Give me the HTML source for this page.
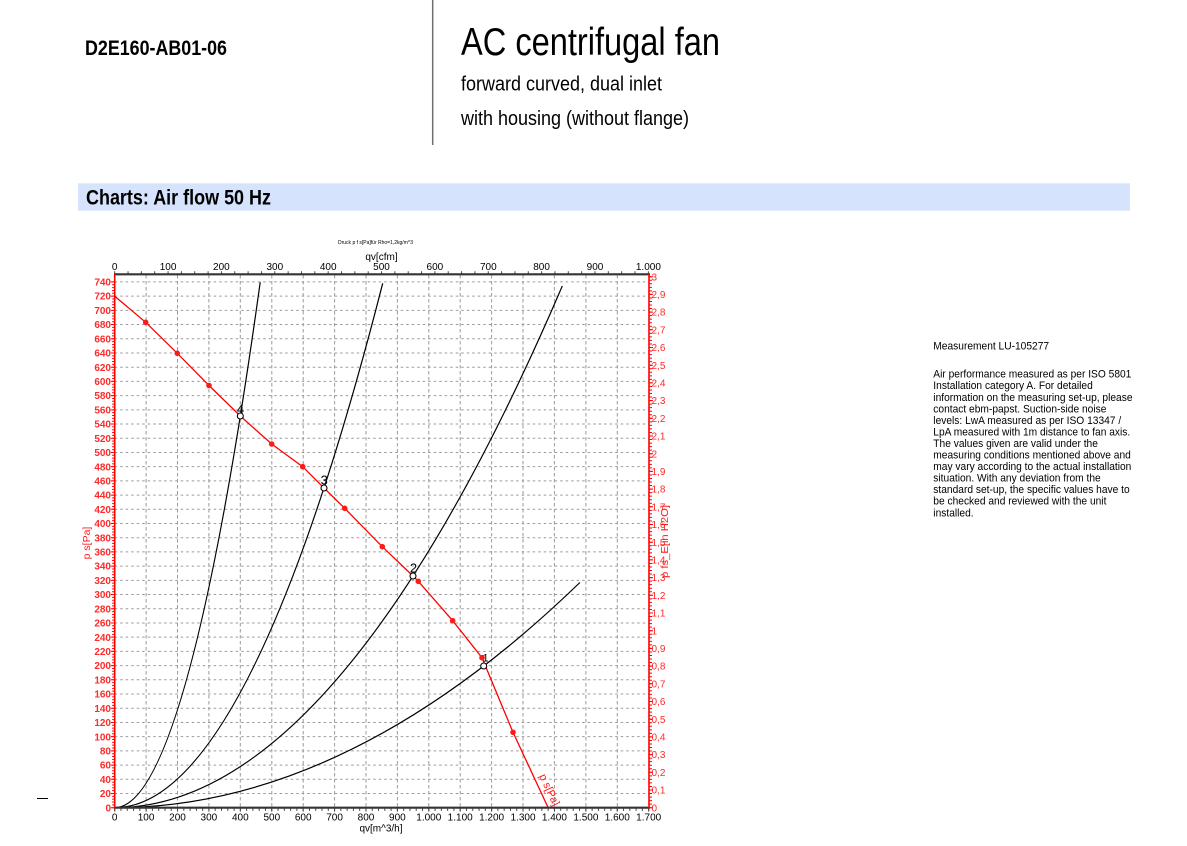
<!DOCTYPE html>
<html><head><meta charset="utf-8"><style>
html,body{margin:0;padding:0;background:#fff;}
svg{display:block;font-family:"Liberation Sans",Arial,sans-serif;}
</style></head><body>
<svg width="1187" height="846" viewBox="0 0 1187 846" xmlns="http://www.w3.org/2000/svg">
<rect width="1187" height="846" fill="#fff"/>
<!-- header -->
<text x="85" y="55" font-size="21" font-weight="bold" textLength="142" lengthAdjust="spacingAndGlyphs" fill="#000">D2E160-AB01-06</text>
<line x1="432.7" y1="0" x2="432.7" y2="145" stroke="#707070" stroke-width="1.5"/>
<text x="461" y="55" font-size="39" textLength="259" lengthAdjust="spacingAndGlyphs" fill="#000">AC centrifugal fan</text>
<text x="461" y="90.7" font-size="20" textLength="201" lengthAdjust="spacingAndGlyphs" fill="#000">forward curved, dual inlet</text>
<text x="461" y="125" font-size="20" textLength="228" lengthAdjust="spacingAndGlyphs" fill="#000">with housing (without flange)</text>
<rect x="78" y="183.3" width="1052" height="27.4" fill="#d6e3fc"/>
<text x="86" y="204.3" font-size="21" font-weight="bold" textLength="185" lengthAdjust="spacingAndGlyphs" fill="#000">Charts: Air flow 50 Hz</text>

<!-- right text -->
<g font-size="10.7" fill="#000" transform="translate(933.3,0) scale(0.955,1)">
<text x="0" y="349.3">Measurement LU-105277</text>
<text x="0" y="377.7">Air performance measured as per ISO 5801</text>
<text x="0" y="389.25">Installation category A. For detailed</text>
<text x="0" y="400.8">information on the measuring set-up, please</text>
<text x="0" y="412.35">contact ebm-papst. Suction-side noise</text>
<text x="0" y="423.9">levels: LwA measured as per ISO 13347 /</text>
<text x="0" y="435.45">LpA measured with 1m distance to fan axis.</text>
<text x="0" y="447">The values given are valid under the</text>
<text x="0" y="458.55">measuring conditions mentioned above and</text>
<text x="0" y="470.1">may vary according to the actual installation</text>
<text x="0" y="481.65">situation. With any deviation from the</text>
<text x="0" y="493.2">standard set-up, the specific values have to</text>
<text x="0" y="504.75">be checked and reviewed with the unit</text>
<text x="0" y="516.3">installed.</text>
</g>

<line x1="37" y1="798.5" x2="48" y2="798.5" stroke="#000" stroke-width="1"/>

<!-- chart titles -->
<text x="375.5" y="244" font-size="5.5" text-anchor="middle" textLength="75" lengthAdjust="spacingAndGlyphs" fill="#000">Druck p f s[Pa]für Rho=1,2kg/m^3</text>
<text x="381.5" y="260" font-size="10" text-anchor="middle" fill="#000">qv[cfm]</text>
<text x="381" y="831.5" font-size="10" text-anchor="middle" fill="#000">qv[m^3/h]</text>

<!-- grid -->
<path fill="none" stroke="#9a9a9a" stroke-width="1" stroke-dasharray="2.5 3" d="M114.7 793.49H649M114.7 779.28H649M114.7 765.07H649M114.7 750.86H649M114.7 736.65H649M114.7 722.44H649M114.7 708.23H649M114.7 694.02H649M114.7 679.81H649M114.7 665.6H649M114.7 651.39H649M114.7 637.18H649M114.7 622.97H649M114.7 608.76H649M114.7 594.55H649M114.7 580.34H649M114.7 566.13H649M114.7 551.92H649M114.7 537.71H649M114.7 523.5H649M114.7 509.29H649M114.7 495.08H649M114.7 480.87H649M114.7 466.66H649M114.7 452.45H649M114.7 438.24H649M114.7 424.03H649M114.7 409.82H649M114.7 395.61H649M114.7 381.4H649M114.7 367.19H649M114.7 352.98H649M114.7 338.77H649M114.7 324.56H649M114.7 310.35H649M114.7 296.14H649M114.7 281.93H649"/>
<path fill="none" stroke="#9a9a9a" stroke-width="1" stroke-dasharray="3.5 2.5" d="M146.1 275V807M177.5 275V807M208.9 275V807M240.3 275V807M271.8 275V807M303.2 275V807M334.6 275V807M366 275V807M397.4 275V807M428.8 275V807M460.2 275V807M491.6 275V807M523 275V807M554.4 275V807M585.9 275V807M617.3 275V807"/>

<!-- system curves -->
<g fill="none" stroke="#000" stroke-width="1.2">
<path d="M114.7 807.7Q187.45 807.7 260.2 282.2"/>
<path d="M114.7 807.7Q248.7 807.7 382.7 283.3"/>
<path d="M114.7 807.7Q338.5 807.7 562.3 286"/>
<path d="M114.7 807.7Q347.3 807.7 579.9 582.5"/>
</g>

<!-- fan curve -->
<path fill="none" stroke="#ff0000" stroke-width="1.3" d="M114.7 296.2L145.7 322.3L177.3 353.3L209 385.5L240.3 416L271.7 444L302.7 466.7L324 488L344.7 508.3L382.3 546.7L413 576L418.3 581.3L452.7 620.7L482 657.7L513 732.3L548.3 808"/>
<g fill="#ff1a1a">
<circle cx="145.7" cy="322.3" r="2.8"/>
<circle cx="177.3" cy="353.3" r="2.8"/>
<circle cx="209" cy="385.5" r="2.8"/>
<circle cx="271.7" cy="444" r="2.8"/>
<circle cx="302.7" cy="466.7" r="2.8"/>
<circle cx="344.7" cy="508.3" r="2.8"/>
<circle cx="382.3" cy="546.7" r="2.8"/>
<circle cx="418.3" cy="581.3" r="2.8"/>
<circle cx="452.7" cy="620.7" r="2.8"/>
<circle cx="482" cy="657.7" r="2.8"/>
<circle cx="513" cy="732.3" r="2.8"/>
</g>
<g fill="#fff" stroke="#000" stroke-width="1.1">
<circle cx="240.3" cy="416" r="3"/>
<circle cx="324" cy="488" r="3"/>
<circle cx="413" cy="576" r="3"/>
<circle cx="483.7" cy="666" r="3"/>
</g>
<g font-size="13" text-anchor="middle" fill="#000">
<text x="240.5" y="413.3">4</text>
<text x="324.2" y="484.3">3</text>
<text x="413.5" y="572.7">2</text>
<text x="485.5" y="661.7" font-size="11">1</text>
</g>
<text transform="translate(539,776) rotate(65)" font-size="11" fill="#ff1a1a" textLength="34" lengthAdjust="spacingAndGlyphs">p s[Pa]</text>

<!-- axes -->
<line x1="114" y1="274.3" x2="650" y2="274.3" stroke="#333" stroke-width="2.2"/>
<line x1="114" y1="807.7" x2="650" y2="807.7" stroke="#333" stroke-width="2.2"/>
<line x1="114.7" y1="274" x2="114.7" y2="808.5" stroke="#ff0000" stroke-width="1.6"/>
<line x1="649" y1="274" x2="649" y2="808.5" stroke="#ff0000" stroke-width="1.6"/>

<!-- ticks -->
<line x1="113.4" y1="808.2" x2="113.4" y2="281" stroke="#ff0000" stroke-width="2.6" stroke-dasharray="1 1.842"/>
<line x1="112.8" y1="808.2" x2="112.8" y2="281" stroke="#ff0000" stroke-width="3.8" stroke-dasharray="1 13.21"/>
<line x1="650.5" y1="808.2" x2="650.5" y2="276" stroke="#ff0000" stroke-width="3" stroke-dasharray="1 2.54"/>
<line x1="651" y1="808.2" x2="651" y2="276" stroke="#ff0000" stroke-width="4" stroke-dasharray="1 16.7"/>
<line x1="114.2" y1="809.6" x2="650" y2="809.6" stroke="#444" stroke-width="2.5" stroke-dasharray="1 5.282"/>
<line x1="114.2" y1="809.9" x2="650" y2="809.9" stroke="#444" stroke-width="3.4" stroke-dasharray="1 30.41"/>
<line x1="114.2" y1="272.4" x2="650" y2="272.4" stroke="#444" stroke-width="2.2" stroke-dasharray="1 12.341"/>

<!-- left labels -->
<g font-size="10" font-weight="bold" text-anchor="end" fill="#ff2a2a">
<text x="111" y="811.3">0</text><text x="111" y="797.1">20</text><text x="111" y="782.9">40</text><text x="111" y="768.7">60</text><text x="111" y="754.5">80</text><text x="111" y="740.3">100</text><text x="111" y="726">120</text><text x="111" y="711.8">140</text><text x="111" y="697.6">160</text><text x="111" y="683.4">180</text><text x="111" y="669.2">200</text><text x="111" y="655">220</text><text x="111" y="640.8">240</text><text x="111" y="626.6">260</text><text x="111" y="612.4">280</text><text x="111" y="598.2">300</text><text x="111" y="583.9">320</text><text x="111" y="569.7">340</text><text x="111" y="555.5">360</text><text x="111" y="541.3">380</text><text x="111" y="527.1">400</text><text x="111" y="512.9">420</text><text x="111" y="498.7">440</text><text x="111" y="484.5">460</text><text x="111" y="470.3">480</text><text x="111" y="456.1">500</text><text x="111" y="441.8">520</text><text x="111" y="427.6">540</text><text x="111" y="413.4">560</text><text x="111" y="399.2">580</text><text x="111" y="385">600</text><text x="111" y="370.8">620</text><text x="111" y="356.6">640</text><text x="111" y="342.4">660</text><text x="111" y="328.2">680</text><text x="111" y="314">700</text><text x="111" y="299.7">720</text><text x="111" y="285.5">740</text>
</g>
<text transform="translate(90,543) rotate(-90)" font-size="10.5" text-anchor="middle" fill="#ff1a1a">p s[Pa]</text>

<!-- right labels -->
<g font-size="10" fill="#ff2a2a">
<text x="651.5" y="811.3">0</text><text x="651.5" y="793.6">0,1</text><text x="651.5" y="775.9">0,2</text><text x="651.5" y="758.2">0,3</text><text x="651.5" y="740.5">0,4</text><text x="651.5" y="722.8">0,5</text><text x="651.5" y="705.1">0,6</text><text x="651.5" y="687.4">0,7</text><text x="651.5" y="669.7">0,8</text><text x="651.5" y="652">0,9</text><text x="651.5" y="634.3">1</text><text x="651.5" y="616.6">1,1</text><text x="651.5" y="598.9">1,2</text><text x="651.5" y="581.2">1,3</text><text x="651.5" y="563.5">1,4</text><text x="651.5" y="545.8">1,5</text><text x="651.5" y="528.1">1,6</text><text x="651.5" y="510.4">1,7</text><text x="651.5" y="492.7">1,8</text><text x="651.5" y="475">1,9</text><text x="651.5" y="457.3">2</text><text x="651.5" y="439.6">2,1</text><text x="651.5" y="421.9">2,2</text><text x="651.5" y="404.2">2,3</text><text x="651.5" y="386.5">2,4</text><text x="651.5" y="368.8">2,5</text><text x="651.5" y="351.1">2,6</text><text x="651.5" y="333.4">2,7</text><text x="651.5" y="315.7">2,8</text><text x="651.5" y="298">2,9</text><text x="651.5" y="280.3">3</text>
</g>
<text transform="translate(668,541.5) rotate(-90)" font-size="10.5" text-anchor="middle" textLength="73" lengthAdjust="spacingAndGlyphs" fill="#ff1a1a">p fs_E[in H2O]</text>

<!-- bottom labels -->
<g font-size="10" text-anchor="middle" fill="#000">
<text x="114.7" y="820.5">0</text><text x="146.1" y="820.5">100</text><text x="177.5" y="820.5">200</text><text x="208.9" y="820.5">300</text><text x="240.3" y="820.5">400</text><text x="271.8" y="820.5">500</text><text x="303.2" y="820.5">600</text><text x="334.6" y="820.5">700</text><text x="366" y="820.5">800</text><text x="397.4" y="820.5">900</text><text x="428.8" y="820.5">1.000</text><text x="460.2" y="820.5">1.100</text><text x="491.6" y="820.5">1.200</text><text x="523" y="820.5">1.300</text><text x="554.4" y="820.5">1.400</text><text x="585.9" y="820.5">1.500</text><text x="617.3" y="820.5">1.600</text><text x="648.7" y="820.5">1.700</text>
</g>
<!-- top labels -->
<g font-size="10" text-anchor="middle" fill="#000">
<text x="114.7" y="270.2">0</text><text x="168.1" y="270.2">100</text><text x="221.4" y="270.2">200</text><text x="274.8" y="270.2">300</text><text x="328.2" y="270.2">400</text><text x="381.5" y="270.2">500</text><text x="434.9" y="270.2">600</text><text x="488.3" y="270.2">700</text><text x="541.6" y="270.2">800</text><text x="595" y="270.2">900</text><text x="648.4" y="270.2">1.000</text>
</g>
</svg>
</body></html>
